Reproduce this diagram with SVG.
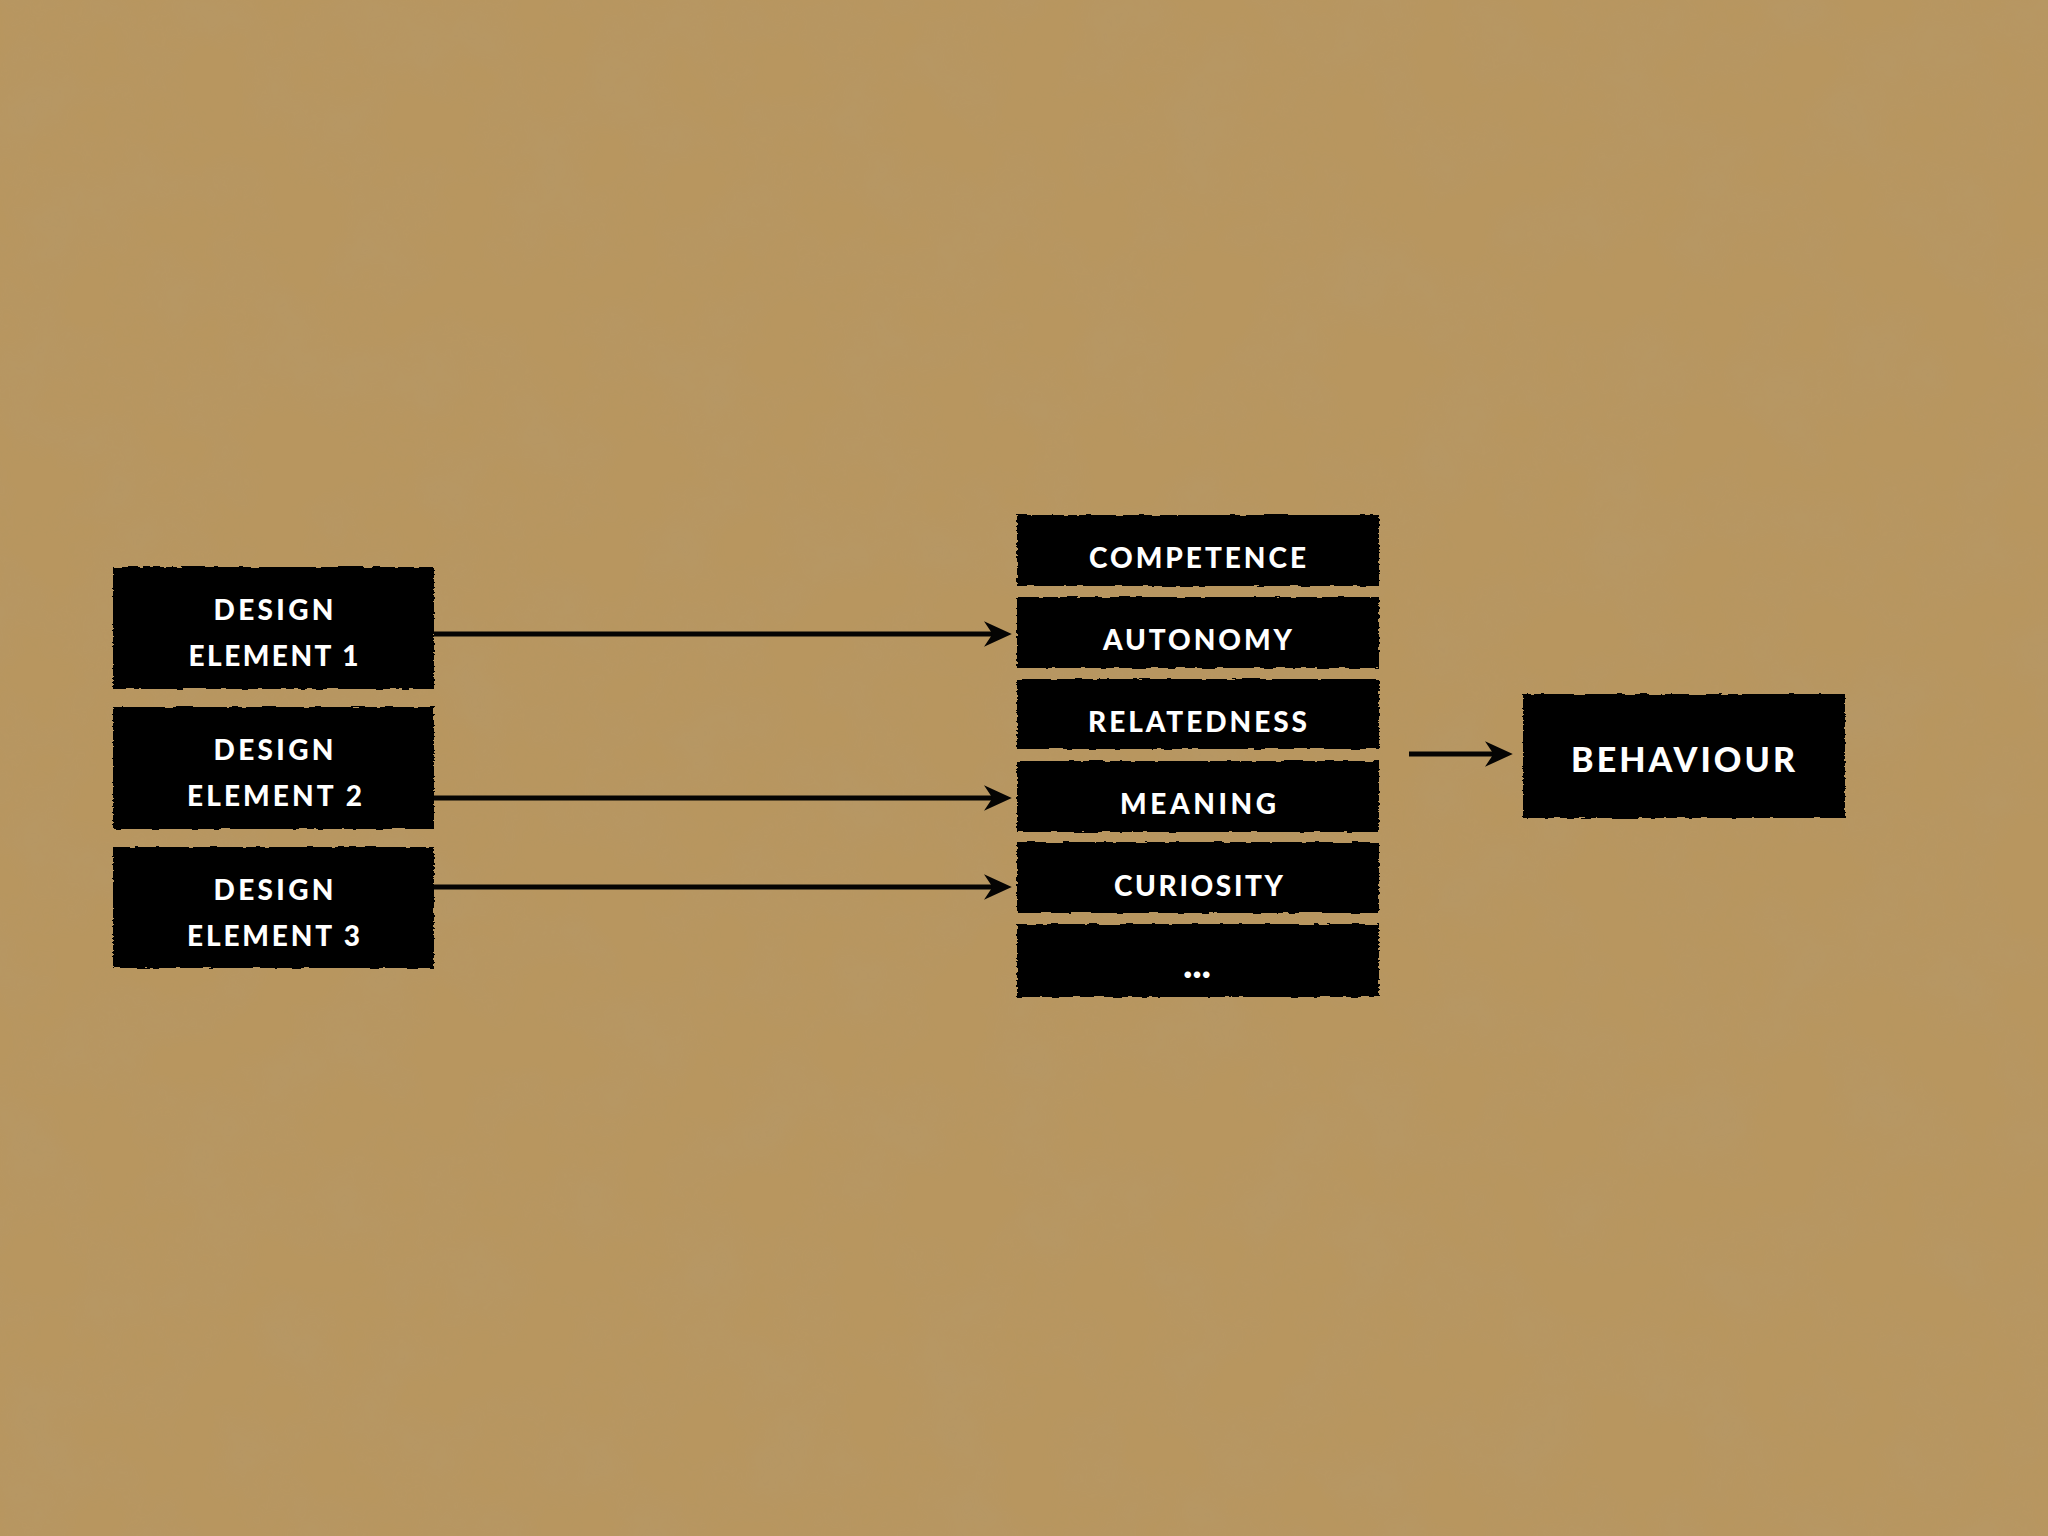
<svg xmlns="http://www.w3.org/2000/svg" width="2048" height="1536" viewBox="0 0 2048 1536">
  <style>
    .box { fill: #050403; filter: url(#rough); }
    .lbl { font-family: Lato, "Open Sans", "Liberation Sans", sans-serif; font-weight: 900; fill: #ffffff; text-anchor: middle; }
    .s28 { font-size: 28px; }
    .s33 { font-size: 34px; }
    .dots { font-size: 40px; }
    .conn { stroke: #050403; stroke-width: 5; fill: none; marker-end: url(#arrow); }
  </style>
  <defs>
    <filter id="paper" x="0" y="0" width="100%" height="100%">
      <feTurbulence type="fractalNoise" baseFrequency="0.012" numOctaves="5" seed="3" result="n"/>
      <feColorMatrix in="n" type="matrix" values="0 0 0 0 0.40  0 0 0 0 0.36  0 0 0 0 0.30  0 0 0 0.9 -0.3"/>
    </filter>
    <filter id="rough" x="-2%" y="-5%" width="104%" height="110%">
      <feTurbulence type="fractalNoise" baseFrequency="0.08 0.5" numOctaves="2" seed="7" result="t"/>
      <feDisplacementMap in="SourceGraphic" in2="t" scale="4" xChannelSelector="R" yChannelSelector="G"/>
    </filter>
    <marker id="arrow" markerUnits="userSpaceOnUse" markerWidth="30" markerHeight="30" viewBox="0 -13 28 26" refX="15" refY="0" orient="auto">
      <path d="M0,-12 L26,0 L0,12 L8,0 Z" fill="#050403"/>
    </marker>
  </defs>

  <rect width="2048" height="1536" fill="#B8965F"/>
  <rect width="2048" height="1536" filter="url(#paper)" opacity="0.2"/>

  <g id="connectors">
    <path class="conn" d="M434,634 L1000,634"/>
    <path class="conn" d="M434,798 L1000,798"/>
    <path class="conn" d="M434,887 L1000,887"/>
    <path class="conn" d="M1409,754 L1501,754"/>
  </g>

  <g id="design-element-1">
    <rect class="box" x="113" y="567" width="321" height="122"/>
    <text class="lbl s28" x="273.5" y="620" textLength="120" lengthAdjust="spacing">DESIGN</text>
    <text class="lbl s28" x="273.5" y="666" textLength="170" lengthAdjust="spacing">ELEMENT 1</text>
  </g>
  <g id="design-element-2">
    <rect class="box" x="113" y="707" width="321" height="122"/>
    <text class="lbl s28" x="273.5" y="760" textLength="120" lengthAdjust="spacing">DESIGN</text>
    <text class="lbl s28" x="274.5" y="806" textLength="175" lengthAdjust="spacing">ELEMENT 2</text>
  </g>
  <g id="design-element-3">
    <rect class="box" x="113" y="847" width="321" height="121"/>
    <text class="lbl s28" x="273.5" y="900" textLength="120" lengthAdjust="spacing">DESIGN</text>
    <text class="lbl s28" x="273.5" y="946" textLength="173" lengthAdjust="spacing">ELEMENT 3</text>
  </g>

  <g id="competence">
    <rect class="box" x="1017" y="515" width="362" height="71"/>
    <text class="lbl s28" x="1197.5" y="568" textLength="217" lengthAdjust="spacing">COMPETENCE</text>
  </g>
  <g id="autonomy">
    <rect class="box" x="1017" y="597" width="362" height="71"/>
    <text class="lbl s28" x="1197.5" y="650" textLength="189" lengthAdjust="spacing">AUTONOMY</text>
  </g>
  <g id="relatedness">
    <rect class="box" x="1017" y="679" width="362" height="70"/>
    <text class="lbl s28" x="1197.5" y="732" textLength="219" lengthAdjust="spacing">RELATEDNESS</text>
  </g>
  <g id="meaning">
    <rect class="box" x="1017" y="761" width="362" height="71"/>
    <text class="lbl s28" x="1198" y="814" textLength="156" lengthAdjust="spacing">MEANING</text>
  </g>
  <g id="curiosity">
    <rect class="box" x="1017" y="842" width="362" height="71"/>
    <text class="lbl s28" x="1198.5" y="896" textLength="169" lengthAdjust="spacing">CURIOSITY</text>
  </g>
  <g id="more">
    <rect class="box" x="1017" y="924" width="362" height="73"/>
    <text class="lbl dots" x="1197" y="978" textLength="28" lengthAdjust="spacing">...</text>
  </g>

  <g id="behaviour">
    <rect class="box" x="1523" y="694" width="322" height="124"/>
    <text class="lbl s33" x="1683" y="772" textLength="224" lengthAdjust="spacing">BEHAVIOUR</text>
  </g>
</svg>
